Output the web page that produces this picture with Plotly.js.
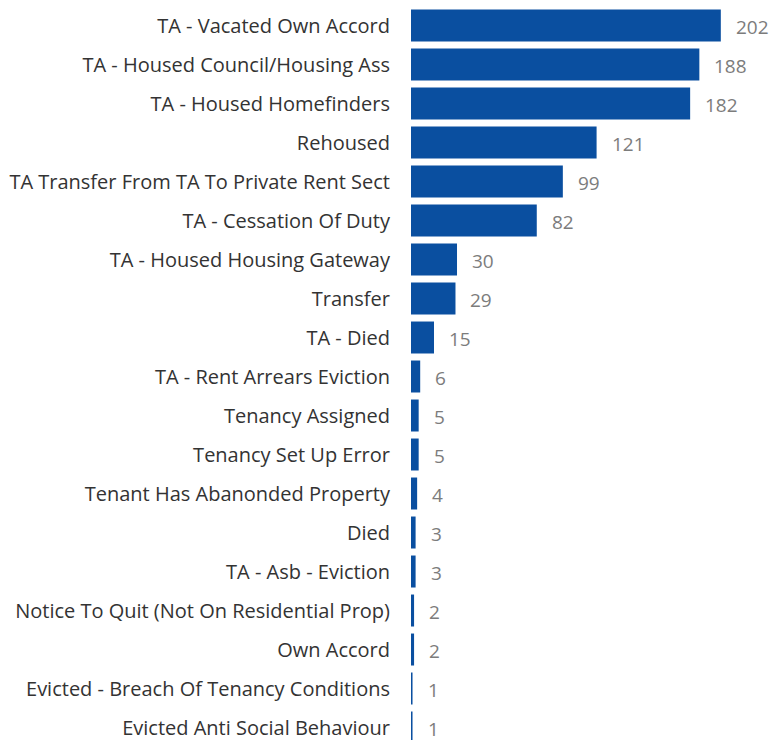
<!DOCTYPE html>
<html>
<head>
<meta charset="utf-8">
<script src="https://cdn.plot.ly/plotly-3.0.1.min.js"></script>
<style>html,body{margin:0;padding:0;background:#fff;}#chart{width:774px;height:740px;}</style>
</head>
<body>
<div id="chart"></div>
<script>
const categories = [
  "TA - Vacated Own Accord",
  "TA - Housed Council/Housing Ass",
  "TA - Housed Homefinders",
  "Rehoused",
  "TA Transfer From TA To Private Rent Sect",
  "TA - Cessation Of Duty",
  "TA - Housed Housing Gateway",
  "Transfer",
  "TA - Died",
  "TA - Rent Arrears Eviction",
  "Tenancy Assigned",
  "Tenancy Set Up Error",
  "Tenant Has Abanonded Property",
  "Died",
  "TA - Asb - Eviction",
  "Notice To Quit (Not On Residential Prop)",
  "Own Accord",
  "Evicted - Breach Of Tenancy Conditions",
  "Evicted Anti Social Behaviour"
];
const counts = [202, 188, 182, 121, 99, 82, 30, 29, 15, 6, 5, 5, 4, 3, 3, 2, 2, 1, 1];

const FONT = "'Open Sans', 'Noto Sans', sans-serif";

const trace = {
  type: 'bar',
  orientation: 'h',
  y: categories,
  x: counts,
  marker: {color: '#0A4FA0'},
  hoverinfo: 'none'
};

const annotations = counts.map((v, i) => ({
  x: v, y: categories[i], xref: 'x', yref: 'y',
  text: String(v), showarrow: false, xanchor: 'left', xshift: 13, yshift: -1,
  font: {family: FONT, size: 19, color: '#7c7c7c'}
}));

const layout = {
  width: 774, height: 740,
  margin: {l: 411, r: 11, t: 6, b: 0},
  paper_bgcolor: '#ffffff', plot_bgcolor: '#ffffff',
  showlegend: false,
  bargap: 0.18,
  xaxis: {range: [0, 229.5], visible: false, fixedrange: true},
  yaxis: {
    type: 'category', range: [18.32, -0.5], autorange: false,
    showgrid: false, zeroline: false, showline: false,
    ticks: 'outside', ticklen: 16, tickcolor: 'rgba(0,0,0,0)',
    tickfont: {family: FONT, size: 20, color: '#333333'}
  },
  annotations: annotations
};

Plotly.newPlot('chart', [trace], layout, {displayModeBar: false, staticPlot: true});
</script>
</body>
</html>
